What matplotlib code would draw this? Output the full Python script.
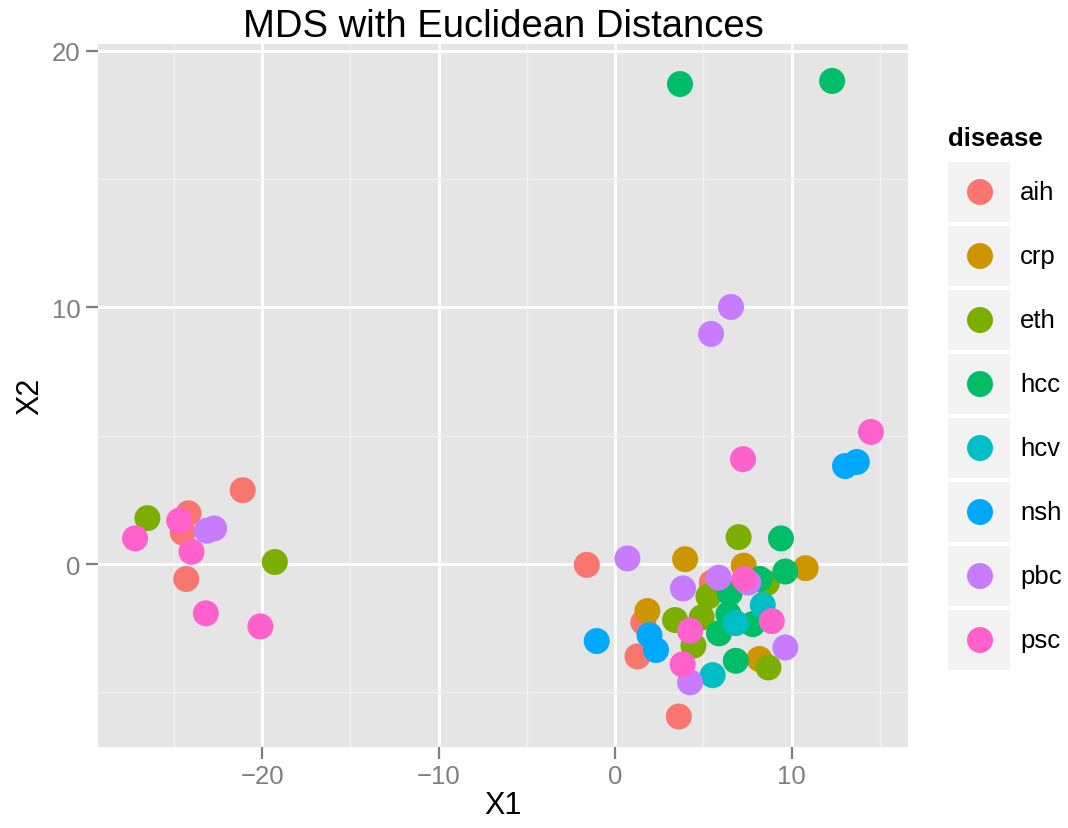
import matplotlib
matplotlib.use("Agg")
import matplotlib.pyplot as plt
from matplotlib.patches import Rectangle

plt.rcParams['font.family'] = ['Liberation Sans', 'DejaVu Sans']

# MDS coordinates per disease group
diseases = ["aih", "crp", "eth", "hcc", "hcv", "nsh", "pbc", "psc"]
colors = ["#F8766D", "#CD9600", "#7CAE00", "#00BE67", "#00BFC4", "#00A9FF", "#C77CFF", "#FF61CC"]

aih_x = [-21.1, -24.17, -24.5, -24.3, -1.6, 5.48, 1.6, 1.27, 3.61]
aih_y = [2.88, 1.98, 1.23, -0.58, -0.03, -0.72, -2.27, -3.6, -5.94]

crp_x = [3.97, 10.8, 7.29, 1.83, 8.18]
crp_y = [0.19, -0.16, -0.06, -1.83, -3.7]

eth_x = [-26.5, -19.28, 7.0, 8.6, 5.29, 3.4, 4.91, 4.44, 8.69]
eth_y = [1.79, 0.08, 1.05, -0.74, -1.26, -2.18, -2.08, -3.18, -4.03]

hcc_x = [3.68, 12.3, 9.4, 9.65, 8.2, 6.5, 6.42, 7.8, 5.89, 6.84]
hcc_y = [18.71, 18.83, 1.0, -0.29, -0.58, -1.13, -1.95, -2.34, -2.7, -3.77]

hcv_x = [8.37, 6.84, 5.53]
hcv_y = [-1.6, -2.3, -4.33]

nsh_x = [13.03, 13.7, 1.95, 2.32, -1.04]
nsh_y = [3.82, 3.98, -2.77, -3.35, -3.0]

pbc_x = [-23.13, -22.72, 6.57, 5.44, 0.70, 3.85, 5.87, 7.55, 9.65, 4.25]
pbc_y = [1.3, 1.39, 10.02, 8.97, 0.22, -0.95, -0.53, -0.72, -3.25, -4.61]

psc_x = [-24.7, -27.2, -24.0, -23.19, -20.1, 14.5, 7.25, 7.33, 8.88, 4.25, 3.83]
psc_y = [1.69, 1.0, 0.48, -1.92, -2.43, 5.15, 4.09, -0.58, -2.22, -2.6, -3.91]

groups = [(aih_x, aih_y), (crp_x, crp_y), (eth_x, eth_y), (hcc_x, hcc_y),
          (hcv_x, hcv_y), (nsh_x, nsh_y), (pbc_x, pbc_y), (psc_x, psc_y)]

W, H = 1068, 829
fig = plt.figure(figsize=(W / 100, H / 100), dpi=100)
ax = fig.add_axes([98 / W, 1 - 748 / H, (908 - 98) / W, (748 - 45) / H])

ax.set_facecolor("#E5E5E5")
for s in ax.spines.values():
    s.set_visible(False)

ax.set_xlim(-29.3, 16.6)
ax.set_ylim(-7.13, 20.27)
ax.set_xticks([-20, -10, 0, 10])
ax.set_xticklabels(["\u221220", "\u221210", "0", "10"])
ax.set_yticks([0, 10, 20])
ax.set_xticks([-25, -15, -5, 5, 15], minor=True)
ax.set_yticks([-5, 5, 15], minor=True)
ax.grid(which="major", color="white", linewidth=2.0)
ax.grid(which="minor", color="#F2F2F2", linewidth=1.0)
ax.set_axisbelow(True)
ax.tick_params(which="major", colors="#7F7F7F", labelsize=18.5, length=8.5, width=1.6, pad=4)
ax.tick_params(which="minor", length=0)

for (xs, ys), c in zip(groups, colors):
    ax.scatter(xs, ys, s=350, color=c, edgecolors="none", zorder=3)

ax.set_xlabel("X1", fontsize=22, labelpad=1)
ax.set_ylabel("X2", fontsize=22, labelpad=5)
ax.set_title("MDS with Euclidean Distances", fontsize=27.5, pad=3)

# legend drawn in pixel coordinates
lax = fig.add_axes([0, 0, 1, 1])
lax.set_xlim(0, W)
lax.set_ylim(H, 0)
lax.axis("off")
lax.text(948, 146, "disease", fontsize=18.5, fontweight="bold", va="baseline", ha="left")
row0, step = 193, 64
for i, (name, c) in enumerate(zip(diseases, colors)):
    cy = row0 + i * step
    lax.add_patch(Rectangle((948, cy - 30), 62, 60, facecolor="#F2F2F2", edgecolor="none"))
    lax.scatter([980], [cy], s=350, color=c, edgecolors="none")
    lax.text(1020, cy, name, fontsize=18.5, va="center", ha="left")

fig.savefig("out.png", dpi=100)
